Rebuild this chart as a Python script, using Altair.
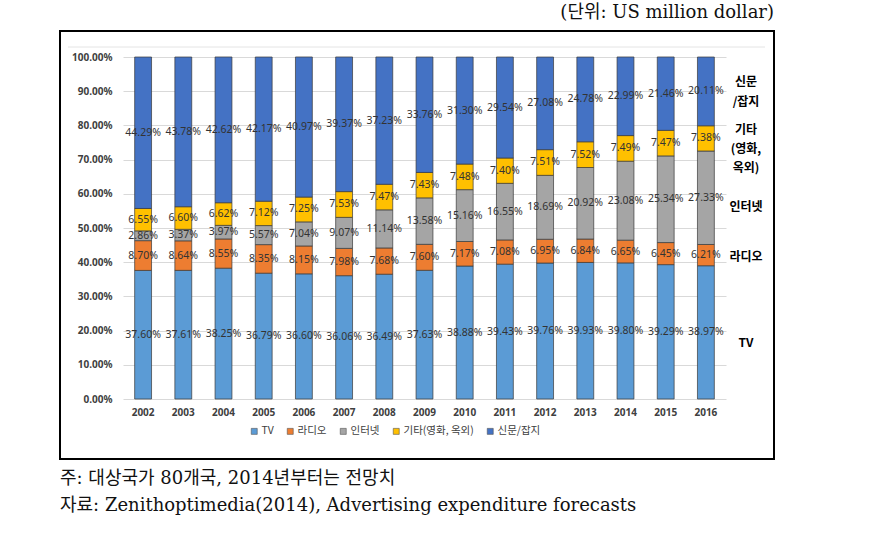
import altair as alt
import pandas as pd

years = [str(y) for y in range(2002, 2017)]
series = ["TV", "라디오", "인터넷", "기타(영화, 옥외)", "신문/잡지"]
tv = [37.60, 37.61, 38.25, 36.79, 36.60, 36.06, 36.49, 37.63, 38.88, 39.43, 39.76, 39.93, 39.80, 39.29, 38.97]
radio = [8.70, 8.64, 8.55, 8.35, 8.15, 7.98, 7.68, 7.60, 7.17, 7.08, 6.95, 6.84, 6.65, 6.45, 6.21]
internet = [2.86, 3.37, 3.97, 5.57, 7.04, 9.07, 11.14, 13.58, 15.16, 16.55, 18.69, 20.92, 23.08, 25.34, 27.33]
other = [6.55, 6.60, 6.62, 7.12, 7.25, 7.53, 7.47, 7.43, 7.48, 7.40, 7.51, 7.52, 7.49, 7.47, 7.38]
news = [44.29, 43.78, 42.62, 42.17, 40.97, 39.37, 37.23, 33.76, 31.30, 29.54, 27.08, 24.78, 22.99, 21.46, 20.11]
colors = ["#5B9BD5", "#ED7D31", "#A5A5A5", "#FFC000", "#4472C4"]
ytick_values = [0, 0.1, 0.2, 0.3, 0.4, 0.5, 0.6, 0.7, 0.8, 0.9, 1.0]

title_text = "(단위: US million dollar)"
note1 = "주: 대상국가 80개국, 2014년부터는 전망치"
note2 = "자료: Zenithoptimedia(2014), Advertising expenditure forecasts"

rows = []
for i, yr in enumerate(years):
    for k, (s, vals) in enumerate(zip(series, [tv, radio, internet, other, news])):
        rows.append({"year": yr, "series": s, "order": k,
                     "pct": vals[i] / 100.0, "label": f"{vals[i]:.2f}%"})
df = pd.DataFrame(rows)

SANS = "Noto Sans, Noto Sans CJK KR"
KR = "Noto Sans CJK KR"
SERIF = "DejaVu Serif, Noto Sans CJK KR"

base = alt.Chart(df).transform_stack(
    stack="pct", groupby=["year"], sort=[alt.SortField("order", order="ascending")],
    as_=["y0", "y1"]
).transform_calculate(mid="(datum.y0 + datum.y1) / 2")

xscale = alt.Scale(paddingInner=0.58, paddingOuter=0.29)
xaxis = alt.Axis(title=None, labelAngle=0, ticks=False, domain=False,
                 labelPadding=8, labelFont=SANS, labelFontSize=10,
                 labelColor="#404040", labelFontWeight="bold", grid=False)
yscale = alt.Scale(domain=[0, 1], nice=False, zero=True)
yaxis = alt.Axis(title=None, format=".2%", values=ytick_values, ticks=False,
                 domain=False, labelPadding=11, labelFont=SANS, labelFontSize=10,
                 labelColor="#404040", labelFontWeight="bold", labelOverlap=False,
                 tickCount=11, gridColor="#d9d9d9", gridWidth=1)

bars = base.mark_bar(stroke="#3a3a3a", strokeWidth=0.7).encode(
    x=alt.X("year:N", sort=years, scale=xscale, axis=xaxis),
    y=alt.Y("y0:Q", scale=yscale, axis=yaxis),
    y2="y1:Q",
    color=alt.Color("series:N", scale=alt.Scale(domain=series, range=colors),
                    legend=alt.Legend(title=None, orient="none", legendX=126, legendY=369,
                                      direction="horizontal", symbolType="square",
                                      symbolSize=36, symbolStrokeWidth=0.6,
                                      symbolStrokeColor="#555555",
                                      labelFont=KR, labelFontSize=10.5, labelColor="#404040",
                                      columnPadding=11, labelOffset=2)),
    order=alt.Order("order:Q"),
)

labels = base.mark_text(font=SANS, fontSize=10.5, color="#333333").encode(
    x=alt.X("year:N", sort=years, scale=xscale, axis=xaxis),
    y=alt.Y("mid:Q", scale=yscale, axis=yaxis),
    text="label:N",
)

one = pd.DataFrame({"a": [0]})

def txt(t, x, y, size=12, font=KR, weight="bold", align="center", color="black", baseline="middle"):
    return alt.Chart(one).mark_text(text=t, font=font, fontSize=size, fontWeight=weight,
                                    align=align, baseline=baseline, color=color).encode(
        x=alt.value(x), y=alt.value(y))

side = [
    txt("신문", 623, 25), txt("/잡지", 623, 45),
    txt("기타", 623, 73), txt("(영화,", 623, 92), txt("옥외)", 623, 111),
    txt("인터넷", 623, 150), txt("라디오", 623, 200), txt("TV", 623, 286),
]

frame = alt.Chart(one).mark_rect(filled=False, stroke="black", strokeWidth=2).encode(
    x=alt.value(-63), x2=alt.value(651), y=alt.value(-26), y2=alt.value(402))
inner = alt.Chart(one).mark_rule(color="#e4e4e4", strokeWidth=1).encode(
    x=alt.value(-55), x2=alt.value(642), y=alt.value(-10))

title = txt(title_text, 651, -44, size=18, font=SERIF, weight="normal", align="right", color="#111111")
n1 = txt(note1, -63, 422, size=18, font=SERIF, weight="normal", align="left", color="#111111")
n2 = txt(note2, -63, 449, size=18, font=SERIF, weight="normal", align="left", color="#111111")

chart = alt.layer(bars, labels, *side, frame, inner, title, n1, n2).properties(
    width=603, height=342,
    padding={"left": 123, "top": 57, "right": 169, "bottom": 150},
    autosize=alt.AutoSizeParams(type="none"),
).configure_view(stroke=None)

chart.save("out.html", embed_options={"renderer": "svg", "actions": False})
